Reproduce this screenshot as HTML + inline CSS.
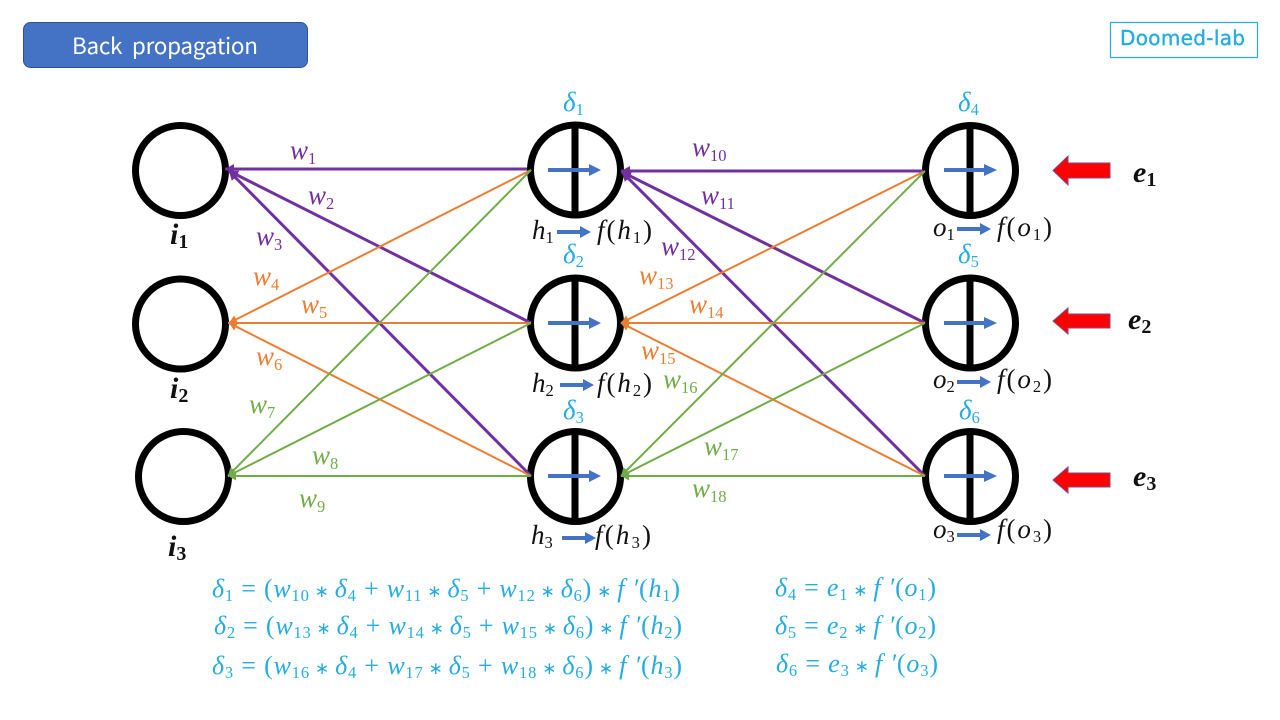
<!DOCTYPE html>
<html><head><meta charset="utf-8">
<style>
html,body{margin:0;padding:0;background:#fff;width:1280px;height:720px;overflow:hidden}
svg{display:block}
text{font-family:"Liberation Serif",serif;white-space:pre}
.m{font-style:italic;font-size:27px}
.s{font-style:normal;font-size:16.5px}
.p{fill:#7030a0}.o{fill:#ed7d31}.g{fill:#70ad47}.c{fill:#25ace3}.k{fill:#111}
.m.b{font-weight:bold;font-size:30px}.bs{font-weight:bold;font-style:normal;font-size:20px}
.e{font-size:26px;font-style:italic;fill:#25ace3}
.n{font-style:normal}
.st{font-style:normal;font-size:17px}
.lp{stroke:#7030a0;stroke-width:3;fill:none}
.lo{stroke:#ed7d31;stroke-width:2;fill:none}
.lg{stroke:#70ad47;stroke-width:2;fill:none}
.ring{fill:none;stroke:#000;stroke-width:7}
.ba{stroke:#4472c4;stroke-width:4}
.bh{fill:#4472c4}
.ra{fill:#ff0000;stroke:#7a4a8a;stroke-width:1}
</style></head><body>
<svg width="1280" height="720" viewBox="0 0 1280 720" xmlns="http://www.w3.org/2000/svg">
<defs>
<marker id="mp" markerUnits="userSpaceOnUse" markerWidth="12" markerHeight="12" refX="9" refY="5" orient="auto"><path d="M0 0L9 5L0 10z" fill="#7030a0"/></marker>
<marker id="mo" markerUnits="userSpaceOnUse" markerWidth="12" markerHeight="12" refX="8" refY="4.5" orient="auto"><path d="M0 0L8 4.5L0 9z" fill="#ed7d31"/></marker>
<marker id="mg" markerUnits="userSpaceOnUse" markerWidth="12" markerHeight="12" refX="8" refY="4.5" orient="auto"><path d="M0 0L8 4.5L0 9z" fill="#70ad47"/></marker>
</defs>

<rect x="23.5" y="22.5" width="284" height="45" rx="7" fill="#4472c4" stroke="#2f528f"/>
<text x="72" y="54" textLength="186" lengthAdjust="spacing" style="font-family:'Noto Sans CJK KR','Liberation Sans',sans-serif;font-size:22.5px;word-spacing:5px" fill="#fff">Back propagation</text>

<rect x="1110.5" y="22.5" width="147" height="35" fill="#fff" stroke="#25ace3" stroke-width="1.2"/>
<text x="1120" y="45" textLength="125" lengthAdjust="spacing" style="font-family:'DejaVu Sans',sans-serif;font-size:20px;stroke:#25ace3;stroke-width:.4" fill="#25ace3">Doomed-lab</text>

<!-- circles -->
<circle class="ring" cx="180.5" cy="170.5" r="45"/>
<circle class="ring" cx="180.5" cy="324" r="45"/>
<circle class="ring" cx="183.5" cy="476.5" r="45"/>
<circle class="ring" cx="575.5" cy="170" r="45"/><line x1="575" y1="123" x2="575" y2="217" stroke="#000" stroke-width="7"/>
<circle class="ring" cx="575.5" cy="323" r="45"/><line x1="575" y1="276" x2="575" y2="370" stroke="#000" stroke-width="7"/>
<circle class="ring" cx="575.5" cy="476.5" r="45"/><line x1="575" y1="429" x2="575" y2="524" stroke="#000" stroke-width="7"/>
<circle class="ring" cx="970.5" cy="170.5" r="45"/><line x1="970" y1="123" x2="970" y2="218" stroke="#000" stroke-width="7"/>
<circle class="ring" cx="970.5" cy="323" r="45"/><line x1="970" y1="276" x2="970" y2="370" stroke="#000" stroke-width="7"/>
<circle class="ring" cx="970.5" cy="476.5" r="45"/><line x1="970" y1="429" x2="970" y2="524" stroke="#000" stroke-width="7"/>

<!-- connectors left -->
<line class="lp" x1="527" y1="169" x2="225" y2="169" marker-end="url(#mp)"/>
<line class="lp" x1="531" y1="323" x2="229" y2="171" marker-end="url(#mp)"/>
<line class="lp" x1="531" y1="476" x2="229" y2="171" marker-end="url(#mp)"/>
<line class="lo" x1="531" y1="170" x2="229" y2="323" marker-end="url(#mo)"/>
<line class="lo" x1="531" y1="323" x2="228" y2="323" marker-end="url(#mo)"/>
<line class="lo" x1="531" y1="476" x2="229" y2="323" marker-end="url(#mo)"/>
<line class="lg" x1="531" y1="170" x2="228" y2="476" marker-end="url(#mg)"/>
<line class="lg" x1="531" y1="323" x2="228" y2="476" marker-end="url(#mg)"/>
<line class="lg" x1="531" y1="476" x2="228" y2="476" marker-end="url(#mg)"/>
<!-- connectors right -->
<line class="lp" x1="923" y1="171" x2="621" y2="171" marker-end="url(#mp)"/>
<line class="lp" x1="925" y1="323" x2="622" y2="172" marker-end="url(#mp)"/>
<line class="lp" x1="925" y1="476" x2="622" y2="172" marker-end="url(#mp)"/>
<line class="lo" x1="925" y1="171" x2="621" y2="323" marker-end="url(#mo)"/>
<line class="lo" x1="925" y1="323" x2="621" y2="323" marker-end="url(#mo)"/>
<line class="lo" x1="925" y1="476" x2="621" y2="323" marker-end="url(#mo)"/>
<line class="lg" x1="925" y1="171" x2="621" y2="476" marker-end="url(#mg)"/>
<line class="lg" x1="925" y1="323" x2="621" y2="476" marker-end="url(#mg)"/>
<line class="lg" x1="925" y1="476" x2="621" y2="476" marker-end="url(#mg)"/>

<!-- blue arrows in nodes -->
<path class="ba" d="M548 170H590M548 323H590M548 476H590M944 170H986M944 323H986M944 476H986"/>
<path class="bh" d="M589 164L601 170L589 176zM589 317L601 323L589 329zM589 470L601 476L589 482zM984 164L997 170L984 176zM984 317L997 323L984 329zM984 470L997 476L984 482z"/>
<!-- blue arrows below -->
<path class="ba" d="M557 232H582M560 385H585M562 538H587M957 229H982M957 382H982M957 535H982"/>
<path class="bh" d="M580 226L591 232L580 238zM583 379L594 385L583 391zM585 532L596 538L585 544zM980 223L991 229L980 235zM980 376L991 382L980 388zM980 529L991 535L980 541z"/>

<!-- red arrows -->
<path class="ra" d="M1053 170.5L1068 156V163H1110V178H1068V185z"/>
<path class="ra" d="M1053 321L1068 308V314H1110V328H1068V334z"/>
<path class="ra" d="M1053 480L1068 467V473H1110V487H1068V493z"/>

<!-- weight labels -->
<text class="m p" x="290" y="159">w<tspan class="s" dy="5">1</tspan></text>
<text class="m p" x="308" y="204">w<tspan class="s" dy="5">2</tspan></text>
<text class="m p" x="256" y="245">w<tspan class="s" dy="5">3</tspan></text>
<text class="m o" x="253" y="285">w<tspan class="s" dy="5">4</tspan></text>
<text class="m o" x="301" y="313">w<tspan class="s" dy="5">5</tspan></text>
<text class="m o" x="256" y="365">w<tspan class="s" dy="5">6</tspan></text>
<text class="m g" x="249" y="413">w<tspan class="s" dy="5">7</tspan></text>
<text class="m g" x="312" y="464">w<tspan class="s" dy="5">8</tspan></text>
<text class="m g" x="299" y="507">w<tspan class="s" dy="5">9</tspan></text>
<text class="m p" x="692" y="156">w<tspan class="s" dy="5">10</tspan></text>
<text class="m p" x="701" y="204">w<tspan class="s" dy="5">11</tspan></text>
<text class="m p" x="661" y="255">w<tspan class="s" dy="5">12</tspan></text>
<text class="m o" x="639" y="284">w<tspan class="s" dy="5">13</tspan></text>
<text class="m o" x="689" y="313">w<tspan class="s" dy="5">14</tspan></text>
<text class="m o" x="641" y="359">w<tspan class="s" dy="5">15</tspan></text>
<text class="m g" x="663" y="388">w<tspan class="s" dy="5">16</tspan></text>
<text class="m g" x="704" y="455">w<tspan class="s" dy="5">17</tspan></text>
<text class="m g" x="692" y="497">w<tspan class="s" dy="5">18</tspan></text>

<!-- deltas -->
<text class="m c" x="563" y="111">δ<tspan class="s" dy="4">1</tspan></text>
<text class="m c" x="563" y="263">δ<tspan class="s" dy="4">2</tspan></text>
<text class="m c" x="563" y="419">δ<tspan class="s" dy="4">3</tspan></text>
<text class="m c" x="958" y="111">δ<tspan class="s" dy="4">4</tspan></text>
<text class="m c" x="958" y="263">δ<tspan class="s" dy="4">5</tspan></text>
<text class="m c" x="959" y="419">δ<tspan class="s" dy="4">6</tspan></text>

<!-- h / o labels -->
<text class="m k" x="532" y="239">h<tspan class="s" dy="4">1</tspan></text>
<text class="m k" x="597" y="239" textLength="55">f<tspan class="n">(</tspan>h<tspan class="s" dy="4">1</tspan><tspan class="n" dy="-4">)</tspan></text>
<text class="m k" x="532" y="392">h<tspan class="s" dy="4">2</tspan></text>
<text class="m k" x="597" y="392" textLength="55">f<tspan class="n">(</tspan>h<tspan class="s" dy="4">2</tspan><tspan class="n" dy="-4">)</tspan></text>
<text class="m k" x="531" y="544">h<tspan class="s" dy="4">3</tspan></text>
<text class="m k" x="595" y="544" textLength="56">f<tspan class="n">(</tspan>h<tspan class="s" dy="4">3</tspan><tspan class="n" dy="-4">)</tspan></text>
<text class="m k" x="933" y="236">o<tspan class="s" dy="4">1</tspan></text>
<text class="m k" x="997" y="236" textLength="55">f<tspan class="n">(</tspan>o<tspan class="s" dy="4">1</tspan><tspan class="n" dy="-4">)</tspan></text>
<text class="m k" x="933" y="388">o<tspan class="s" dy="4">2</tspan></text>
<text class="m k" x="997" y="388" textLength="55">f<tspan class="n">(</tspan>o<tspan class="s" dy="4">2</tspan><tspan class="n" dy="-4">)</tspan></text>
<text class="m k" x="933" y="538">o<tspan class="s" dy="4">3</tspan></text>
<text class="m k" x="997" y="538" textLength="55">f<tspan class="n">(</tspan>o<tspan class="s" dy="4">3</tspan><tspan class="n" dy="-4">)</tspan></text>

<!-- i / e labels -->
<text class="m b k" x="170" y="244">i<tspan class="bs" dy="4">1</tspan></text>
<text class="m b k" x="170" y="398">i<tspan class="bs" dy="4">2</tspan></text>
<text class="m b k" x="168" y="556">i<tspan class="bs" dy="4">3</tspan></text>
<text class="m b k" x="1133" y="182">e<tspan class="bs" dy="4">1</tspan></text>
<text class="m b k" x="1128" y="329">e<tspan class="bs" dy="4">2</tspan></text>
<text class="m b k" x="1133" y="486">e<tspan class="bs" dy="4">3</tspan></text>

<!-- equations -->
<text class="e" x="212" y="597" textLength="468">δ<tspan class="s" dy="4">1</tspan><tspan class="n" dy="-4"> = (</tspan>w<tspan class="s" dy="4">10</tspan><tspan class="st" dy="-4"> ∗ </tspan>δ<tspan class="s" dy="4">4</tspan><tspan class="n" dy="-4"> + </tspan>w<tspan class="s" dy="4">11</tspan><tspan class="st" dy="-4"> ∗ </tspan>δ<tspan class="s" dy="4">5</tspan><tspan class="n" dy="-4"> + </tspan>w<tspan class="s" dy="4">12</tspan><tspan class="st" dy="-4"> ∗ </tspan>δ<tspan class="s" dy="4">6</tspan><tspan class="n" dy="-4">)</tspan><tspan class="st"> ∗ </tspan>f ′<tspan class="n">(</tspan>h<tspan class="s" dy="4">1</tspan><tspan class="n" dy="-4">)</tspan></text>
<text class="e" x="214" y="634" textLength="468">δ<tspan class="s" dy="4">2</tspan><tspan class="n" dy="-4"> = (</tspan>w<tspan class="s" dy="4">13</tspan><tspan class="st" dy="-4"> ∗ </tspan>δ<tspan class="s" dy="4">4</tspan><tspan class="n" dy="-4"> + </tspan>w<tspan class="s" dy="4">14</tspan><tspan class="st" dy="-4"> ∗ </tspan>δ<tspan class="s" dy="4">5</tspan><tspan class="n" dy="-4"> + </tspan>w<tspan class="s" dy="4">15</tspan><tspan class="st" dy="-4"> ∗ </tspan>δ<tspan class="s" dy="4">6</tspan><tspan class="n" dy="-4">)</tspan><tspan class="st"> ∗ </tspan>f ′<tspan class="n">(</tspan>h<tspan class="s" dy="4">2</tspan><tspan class="n" dy="-4">)</tspan></text>
<text class="e" x="212" y="674" textLength="470">δ<tspan class="s" dy="4">3</tspan><tspan class="n" dy="-4"> = (</tspan>w<tspan class="s" dy="4">16</tspan><tspan class="st" dy="-4"> ∗ </tspan>δ<tspan class="s" dy="4">4</tspan><tspan class="n" dy="-4"> + </tspan>w<tspan class="s" dy="4">17</tspan><tspan class="st" dy="-4"> ∗ </tspan>δ<tspan class="s" dy="4">5</tspan><tspan class="n" dy="-4"> + </tspan>w<tspan class="s" dy="4">18</tspan><tspan class="st" dy="-4"> ∗ </tspan>δ<tspan class="s" dy="4">6</tspan><tspan class="n" dy="-4">)</tspan><tspan class="st"> ∗ </tspan>f ′<tspan class="n">(</tspan>h<tspan class="s" dy="4">3</tspan><tspan class="n" dy="-4">)</tspan></text>

<text class="e" x="775" y="596" textLength="161">δ<tspan class="s" dy="4">4</tspan><tspan class="n" dy="-4"> = </tspan>e<tspan class="s" dy="4">1</tspan><tspan class="st" dy="-4"> ∗ </tspan>f ′<tspan class="n">(</tspan>o<tspan class="s" dy="4">1</tspan><tspan class="n" dy="-4">)</tspan></text>
<text class="e" x="775" y="634" textLength="161">δ<tspan class="s" dy="4">5</tspan><tspan class="n" dy="-4"> = </tspan>e<tspan class="s" dy="4">2</tspan><tspan class="st" dy="-4"> ∗ </tspan>f ′<tspan class="n">(</tspan>o<tspan class="s" dy="4">2</tspan><tspan class="n" dy="-4">)</tspan></text>
<text class="e" x="776" y="672" textLength="162">δ<tspan class="s" dy="4">6</tspan><tspan class="n" dy="-4"> = </tspan>e<tspan class="s" dy="4">3</tspan><tspan class="st" dy="-4"> ∗ </tspan>f ′<tspan class="n">(</tspan>o<tspan class="s" dy="4">3</tspan><tspan class="n" dy="-4">)</tspan></text>
</svg>
</body></html>
